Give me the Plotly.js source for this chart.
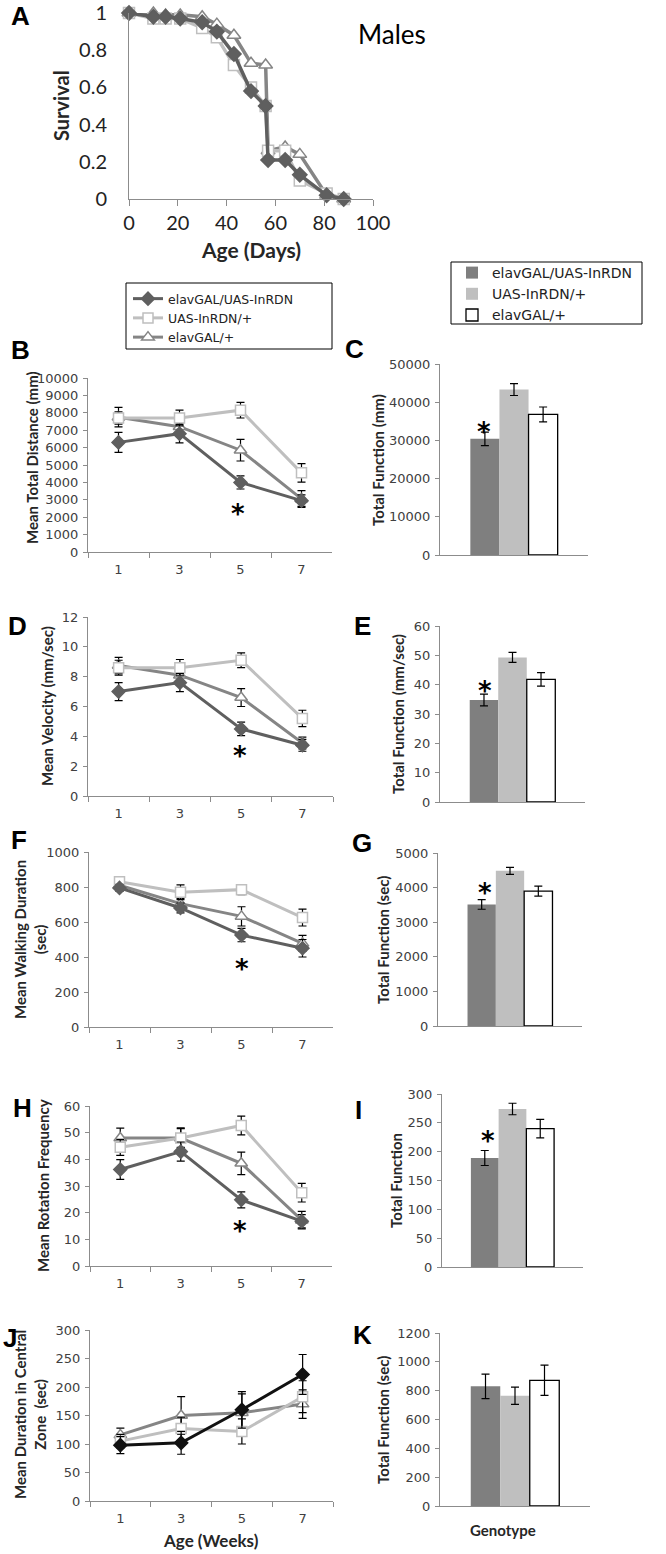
<!DOCTYPE html>
<html><head><meta charset="utf-8">
<script src="https://cdn.plot.ly/plotly-3.0.1.min.js"></script>
<style>html,body{margin:0;padding:0;background:#fff;}#chart{width:666px;height:1554px;}</style>
</head><body><div id="chart"></div>
<script>
// ---------- DATA ----------
const genotypes = ['elavGAL/UAS-InRDN', 'UAS-InRDN/+', 'elavGAL/+'];
// A: survival
const survDays = [0, 10, 15, 21, 30, 36, 43, 50, 56, 57, 64, 70, 81, 88];
const survInr  = [1, 0.98, 0.98, 0.97, 0.95, 0.90, 0.78, 0.58, 0.50, 0.21, 0.21, 0.13, 0.02, 0];
const survUas  = [1, 0.97, 0.97, 0.97, 0.92, 0.87, 0.72, 0.60, 0.50, 0.26, 0.26, 0.10, 0.03, 0];
const survElav = [1, 1.00, 0.99, 0.99, 0.98, 0.94, 0.88, 0.73, 0.72, 0.26, 0.28, 0.24, 0.02, 0];
const weeks = ['1', '3', '5', '7'];
// B: mean total distance (mm)
const distInr = [6300, 6800, 4000, 2950];   const distInrErr = [580, 530, 380, 330];
const distUas = [7700, 7700, 8150, 4550];   const distUasErr = [350, 450, 450, 530];
const distElav = [7750, 7200, 5850, 3050];  const distElavErr = [560, 400, 620, 480];
// C: total function (mm)
const totDist = [30400, 43300, 36800];      const totDistErr = [1750, 1550, 1950];
// D: mean velocity (mm/sec)
const velInr = [7.0, 7.6, 4.5, 3.4];        const velInrErr = [0.6, 0.6, 0.45, 0.4];
const velUas = [8.6, 8.6, 9.1, 5.2];        const velUasErr = [0.5, 0.55, 0.5, 0.55];
const velElav = [8.75, 8.1, 6.6, 3.55];     const velElavErr = [0.55, 0.5, 0.6, 0.4];
// E: total function (mm/sec)
const totVel = [34.8, 49.3, 41.8];          const totVelErr = [2.0, 1.7, 2.3];
// F: mean walking duration (sec)
const walkInr = [795, 680, 525, 450];       const walkInrErr = [20, 28, 38, 50];
const walkUas = [830, 770, 785, 625];       const walkUasErr = [20, 42, 28, 48];
const walkElav = [810, 705, 632, 478];      const walkElavErr = [20, 30, 55, 45];
// G: total function (sec)
const totWalk = [3515, 4485, 3900];         const totWalkErr = [140, 100, 145];
// H: mean rotation frequency
const rotInr = [36.2, 42.9, 24.8, 16.8];    const rotInrErr = [3.7, 3.6, 3.0, 2.5];
const rotUas = [44.5, 48.0, 52.7, 27.5];    const rotUasErr = [3.0, 3.8, 3.5, 3.5];
const rotElav = [48.0, 48.0, 38.5, 17.2];   const rotElavErr = [3.7, 3.5, 4.2, 3.3];
// I: total function
const totRot = [189, 274, 240];             const totRotErr = [13, 10, 16];
// J: mean duration in central zone (sec)
const cenInr = [98, 102, 160, 222];         const cenInrErr = [15, 20, 32, 35];
const cenUas = [105, 127, 122, 183];        const cenUasErr = [12, 20, 22, 28];
const cenElav = [116, 150, 155, 170];       const cenElavErr = [12, 33, 33, 25];
// K: total function (sec)
const totCen = [830, 765, 872];             const totCenErr = [85, 60, 105];

// ---------- LAYOUT HELPERS ----------
const W = 666, H = 1554;
const xd = (a, b) => [a / W, b / W];
const yd = (t, b) => [1 - b / H, 1 - t / H];
const AXC = '#8c8c8c';
const TICKFONT = {family: 'DejaVu Sans, Verdana, sans-serif', size: 13, color: '#404040'};
const ST = {
  inr:  {line: '#5f5f5f', fill: '#5f5f5f', symbol: 'diamond', size: 10},
  uas:  {line: '#bfbfbf', fill: '#ffffff', symbol: 'square', size: 10},
  elav: {line: '#858585', fill: '#ffffff', symbol: 'triangle-up', size: 11}
};
const BARC = ['#7f7f7f', '#bfbfbf', '#ffffff'];
const traces = [];
const layout = {
  width: W, height: H, margin: {l: 0, r: 0, t: 0, b: 0},
  paper_bgcolor: '#ffffff', plot_bgcolor: 'rgba(0,0,0,0)',
  showlegend: true, barmode: 'group', bargap: 0.41, bargroupgap: 0,
  annotations: [], shapes: [],
  legend: {x: 128 / W, y: 1 - 284 / H, xanchor: 'left', yanchor: 'top', bgcolor: 'rgba(0,0,0,0)',
           borderwidth: 0, font: {family: 'DejaVu Sans, Verdana, sans-serif', size: 12.5, color: '#222'},
           traceorder: 'normal', tracegroupgap: 0},
  legend2: {x: 452 / W, y: 1 - 257 / H, xanchor: 'left', yanchor: 'top', bgcolor: 'rgba(0,0,0,0)',
            borderwidth: 0, font: {family: 'DejaVu Sans, Verdana, sans-serif', size: 14, color: '#222'},
            traceorder: 'normal', tracegroupgap: 0}
};
const s = n => (n === 1 ? '' : String(n));
function yAxis(n, dom, range, dtick, extra) {
  return Object.assign({domain: dom, anchor: 'x' + s(n), range: range, dtick: dtick, tickformat: 'd',
    showline: true, linecolor: AXC, linewidth: 1, ticks: 'outside', ticklen: 4, tickcolor: AXC,
    tickfont: TICKFONT, ticklabelstandoff: 2, showgrid: false, zeroline: false, fixedrange: true}, extra || {});
}
function errBar(arr) {
  return {type: 'data', array: arr, visible: true, color: '#000', thickness: 1.2, width: 4};
}

// ---------- PANEL A ----------
layout.xaxis = {domain: xd(129, 373), anchor: 'y', range: [0, 100], dtick: 20, showline: true,
  linecolor: AXC, linewidth: 1, ticks: 'outside', ticklen: 6, tickcolor: AXC,
  tickfont: {family: 'Lato, sans-serif', size: 20, color: '#222'}, showgrid: false, zeroline: false};
layout.yaxis = yAxis(1, yd(13, 199), [0, 1], 0.2,
  {tickformat: '', tickfont: {family: 'Lato, sans-serif', size: 20, color: '#222'},
   ticklen: 0, ticks: '', ticklabelstandoff: 17});
[['elav', survElav], ['uas', survUas], ['inr', survInr]].forEach(([k, v]) => {
  const st = ST[k];
  traces.push({x: survDays, y: v, mode: 'lines+markers', xaxis: 'x', yaxis: 'y', showlegend: false,
    cliponaxis: false, line: {color: st.line, width: 3.5},
    marker: {symbol: st.symbol, size: st.size + 1, color: st.fill, line: {color: st.line, width: 1.5}}});
});

// ---------- LINE PANELS ----------
function linePanel(n, xdom, ydom, range, dtick, data, legendOn, inrColor) {
  layout['xaxis' + s(n)] = {domain: xdom, anchor: 'y' + s(n), type: 'category', range: [-0.5, 3.5],
    showline: true, linecolor: AXC, linewidth: 1, ticks: 'outside', tickson: 'boundaries', ticklen: 5,
    tickcolor: AXC, tickfont: TICKFONT, showgrid: false, zeroline: false, ticklabelstandoff: 5, fixedrange: true};
  layout['yaxis' + s(n)] = yAxis(n, ydom, range, dtick);
  const names = {inr: genotypes[0], uas: genotypes[1], elav: genotypes[2]};
  const rank = {inr: 1, uas: 2, elav: 3};
  ['elav', 'uas', 'inr'].forEach(k => {
    const st = Object.assign({}, ST[k]);
    if (k === 'inr' && inrColor) { st.line = inrColor; st.fill = inrColor; }
    traces.push({x: weeks, y: data[k][0], error_y: errBar(data[k][1]), mode: 'lines+markers',
      name: names[k], legend: 'legend', legendrank: rank[k], showlegend: legendOn,
      xaxis: 'x' + s(n), yaxis: 'y' + s(n), cliponaxis: false,
      line: {color: st.line, width: 3},
      marker: {symbol: st.symbol, size: st.size, color: st.fill, line: {color: st.line, width: 1.5}}});
  });
}
function barPanel(n, xdom, ydom, range, dtick, vals, errs, legendOn) {
  layout['xaxis' + s(n)] = {domain: xdom, anchor: 'y' + s(n), type: 'category', range: [-0.5, 0.5],
    showline: true, linecolor: AXC, linewidth: 1, ticks: '', showticklabels: false,
    showgrid: false, zeroline: false, fixedrange: true};
  layout['yaxis' + s(n)] = yAxis(n, ydom, range, dtick);
  for (let i = 0; i < 3; i++) {
    traces.push({type: 'bar', x: ['g'], y: [vals[i]], error_y: errBar([errs[i]]), name: genotypes[i],
      legend: 'legend2', legendrank: i + 1, showlegend: legendOn, offsetgroup: String(i),
      xaxis: 'x' + s(n), yaxis: 'y' + s(n),
      marker: {color: BARC[i], line: {color: i === 2 ? '#000' : BARC[i], width: i === 2 ? 1.3 : 0}}});
  }
}

linePanel(2, xd(88, 332), yd(378, 552), [0, 10000], 1000,
  {inr: [distInr, distInrErr], uas: [distUas, distUasErr], elav: [distElav, distElavErr]}, true);
barPanel(3, xd(440, 588), yd(364, 555), [0, 50000], 10000, totDist, totDistErr, true);
linePanel(4, xd(88, 333), yd(617, 796), [0, 12], 2,
  {inr: [velInr, velInrErr], uas: [velUas, velUasErr], elav: [velElav, velElavErr]}, false);
barPanel(5, xd(440, 585), yd(626, 802), [0, 60], 10, totVel, totVelErr, false);
linePanel(6, xd(89, 333), yd(852, 1027), [0, 1000], 200,
  {inr: [walkInr, walkInrErr], uas: [walkUas, walkUasErr], elav: [walkElav, walkElavErr]}, false);
barPanel(7, xd(438, 582), yd(853, 1026), [0, 5000], 1000, totWalk, totWalkErr, false);
linePanel(8, xd(90, 332), yd(1106, 1266), [0, 60], 10,
  {inr: [rotInr, rotInrErr], uas: [rotUas, rotUasErr], elav: [rotElav, rotElavErr]}, false);
barPanel(9, xd(442, 583), yd(1094, 1267), [0, 300], 50, totRot, totRotErr, false);
linePanel(10, xd(90, 333), yd(1330, 1501), [0, 300], 50,
  {inr: [cenInr, cenInrErr], uas: [cenUas, cenUasErr], elav: [cenElav, cenElavErr]}, false, '#111111');
barPanel(11, xd(440, 590), yd(1333, 1506), [0, 1200], 200, totCen, totCenErr, false);

// ---------- TEXT ----------
function txt(text, x, y, font, extra) {
  layout.annotations.push(Object.assign({text: text, x: x / W, y: 1 - y / H, xref: 'paper', yref: 'paper',
    showarrow: false, xanchor: 'center', yanchor: 'middle', font: font}, extra || {}));
}
const TF = sz => ({family: 'Lato, sans-serif', size: sz, color: '#262626', weight: 'bold'});
const LF = {family: 'Liberation Sans, Arial, sans-serif', size: 26, color: '#000', weight: 'bold'};
const AF = {family: 'DejaVu Sans, sans-serif', size: 26, color: '#000', weight: 'bold'};

txt('Males', 392, 34, {family: 'Lato, sans-serif', size: 26, color: '#000'});
txt('Survival', 61, 106, TF(20), {textangle: -90});
txt('Age (Days)', 251, 249, TF(21));
txt('Mean Total Distance (mm)', 32, 458, TF(15), {textangle: -90});
txt('Total Function (mm)', 378, 460, TF(15), {textangle: -90});
txt('Mean Velocity (mm/sec)', 47, 706, TF(15), {textangle: -90});
txt('Total Function (mm/sec)', 398, 714, TF(15), {textangle: -90});
txt('Mean Walking Duration<br>(sec)', 30, 940, TF(15), {textangle: -90});
txt('Total Function (sec)', 383, 940, TF(15), {textangle: -90});
txt('Mean Rotation Frequency', 43, 1186, TF(15), {textangle: -90});
txt('Total Function', 396, 1181, TF(15), {textangle: -90});
txt('Mean Duration in Central<br>Zone  (sec)', 30, 1415, TF(15), {textangle: -90});
txt('Total Function (sec)', 383, 1420, TF(15), {textangle: -90});
txt('Age (Weeks)', 211, 1540, TF(17));
txt('Genotype', 503, 1530, TF(15));

[['A', 21, 16], ['B', 20, 350], ['C', 354, 349], ['D', 17, 626], ['E', 362, 626], ['F', 19, 840],
 ['G', 362, 843], ['H', 22, 1108], ['I', 358, 1110], ['J', 10, 1338], ['K', 362, 1335]]
  .forEach(([t, x, y]) => txt(t, x, y, LF));

[[238, 508], [484, 426], [240, 750], [485, 685], [242, 963], [485, 887], [240, 1225], [488, 1135]]
  .forEach(([x, y]) => txt('*', x, y + 6, AF));

// legend boxes
layout.shapes.push({type: 'rect', xref: 'paper', yref: 'paper', x0: 126 / W, x1: 332 / W,
  y0: 1 - 349 / H, y1: 1 - 283 / H, line: {color: '#000', width: 1}, fillcolor: 'rgba(0,0,0,0)'});
layout.shapes.push({type: 'rect', xref: 'paper', yref: 'paper', x0: 451 / W, x1: 642 / W,
  y0: 1 - 324 / H, y1: 1 - 262 / H, line: {color: '#000', width: 1}, fillcolor: 'rgba(0,0,0,0)'});

Plotly.newPlot('chart', traces, layout, {displayModeBar: false, staticPlot: true});
</script>
</body></html>
